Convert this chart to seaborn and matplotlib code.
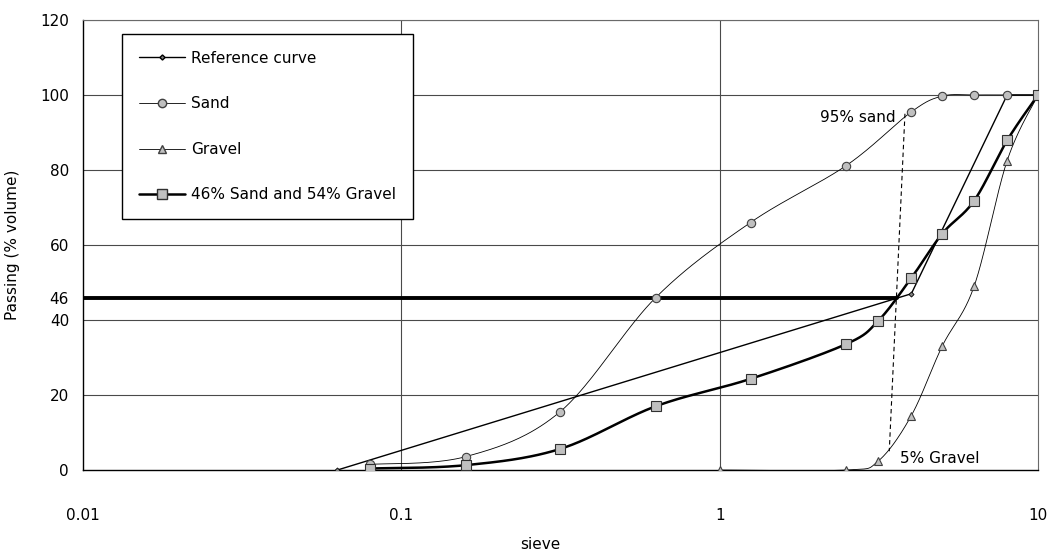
import numpy as np
import matplotlib
matplotlib.use("Agg")
import matplotlib.pyplot as plt
from matplotlib.lines import Line2D
import seaborn as sns

# Grading curves: sieve size (mm) vs. passing (% volume)
sieve_ref = [0.063, 4, 8, 10]
passing_ref = [0, 47, 100, 100]

sieve_sand = [0.08, 0.16, 0.315, 0.63, 1.25, 2.5, 4, 5, 6.3, 8, 10]
passing_sand = [1.5, 3.6, 15.5, 46, 66, 81.2, 95.5, 99.7, 100, 100, 100]

sieve_gravel = [1, 2.5, 3.15, 4, 5, 6.3, 8, 10]
passing_gravel = [0, 0, 2.4, 14.5, 33, 49, 82.5, 100]

sieve_mix = [0.08, 0.16, 0.315, 0.63, 1.25, 2.5, 3.15, 4, 5, 6.3, 8, 10]
passing_mix = [0.4, 1.3, 5.6, 17, 24.3, 33.6, 39.8, 51.2, 63, 71.8, 87.9, 100]

target_passing = 46
target_sieve = 3.6
sand_mark = (3.82, 95)
gravel_mark = (3.41, 5)

series_labels = ["Reference curve", "Sand", "Gravel", "46% Sand and 54% Gravel"]
y_ticks = [0, 20, 40, 46, 60, 80, 100, 120]
x_ticks = [0.01, 0.1, 1, 10]
x_ticklabels = ["0.01", "0.1", "1", "10"]

sns.set_style("white")
plt.rcParams["font.family"] = ["DejaVu Sans"]
plt.rcParams["text.color"] = "black"
plt.rcParams["axes.labelcolor"] = "black"
plt.rcParams["xtick.color"] = "black"
plt.rcParams["ytick.color"] = "black"

fig = plt.figure(figsize=(10.49, 5.52), dpi=100)
ax = fig.add_axes([83 / 1049, 1 - 470 / 552, 955 / 1049, 450 / 552])
ax.set_xscale("log")
ax.set_xlim(0.01, 10)
ax.set_ylim(0, 120)


def smooth(ax, xs, ys, n=40):
    """Bezier smoothing through the points, computed in screen space."""
    pts = ax.transData.transform(np.column_stack([xs, ys]))
    P = np.vstack([pts[0], pts, pts[-1]])
    t = np.linspace(0, 1, n)[:, None]
    out = []
    for i in range(1, len(P) - 2):
        p0, p1 = P[i], P[i + 1]
        c1 = p0 + (P[i + 1] - P[i - 1]) / 6
        c2 = p1 - (P[i + 2] - P[i]) / 6
        seg = (1 - t) ** 3 * p0 + 3 * (1 - t) ** 2 * t * c1 + 3 * (1 - t) * t ** 2 * c2 + t ** 3 * p1
        out.append(seg if i == 1 else seg[1:])
    d = ax.transData.inverted().transform(np.vstack(out))
    return d[:, 0], d[:, 1]


# grid
grid_kw = dict(color="#4a4a4a", lw=0.8, zorder=0)
for yv in [20, 40, 60, 80, 100, 120]:
    ax.axhline(yv, **grid_kw)
for xv in [0.1, 1]:
    ax.axvline(xv, **grid_kw)

fill = "#c0c0c0"

# reference curve (straight segments)
sns.lineplot(x=sieve_ref, y=passing_ref, ax=ax, color="black", lw=1.0,
             sort=False, estimator=None, zorder=3)
ax.plot(sieve_ref, passing_ref, ls="none", marker="D", ms=2.6,
        mfc="#808080", mec="black", mew=0.6, zorder=4)

# sand
sx, sy = smooth(ax, sieve_sand, passing_sand)
sns.lineplot(x=sx, y=sy, ax=ax, color="black", lw=0.6, sort=False, estimator=None, zorder=3)
ax.plot(sieve_sand, passing_sand, ls="none", marker="o", ms=6,
        mfc=fill, mec="#404040", mew=0.8, zorder=4)

# gravel
gx, gy = smooth(ax, sieve_gravel, passing_gravel)
sns.lineplot(x=gx, y=gy, ax=ax, color="black", lw=0.6, sort=False, estimator=None, zorder=3)
ax.plot(sieve_gravel, passing_gravel, ls="none", marker="^", ms=6,
        mfc=fill, mec="#404040", mew=0.8, zorder=4)

# mixture
mx, my = smooth(ax, sieve_mix, passing_mix)
sns.lineplot(x=mx, y=my, ax=ax, color="black", lw=1.8, sort=False, estimator=None, zorder=3)
ax.plot(sieve_mix, passing_mix, ls="none", marker="s", ms=6.5,
        mfc=fill, mec="#303030", mew=0.8, zorder=5)

# target passing line and split line
ax.plot([0.01, target_sieve], [target_passing, target_passing], color="black", lw=2.8, zorder=3)
ax.plot([sand_mark[0], gravel_mark[0]], [sand_mark[1], gravel_mark[1]],
        color="black", lw=0.8, dashes=(4, 3), zorder=3)

ax.text(3.56, 94.1, "95% sand", ha="right", va="center", fontsize=11)
ax.text(3.69, 3.1, "5% Gravel", ha="left", va="center", fontsize=11)

# axes styling
ax.set_xticks(x_ticks)
ax.set_xticklabels(x_ticklabels)
ax.xaxis.set_minor_locator(matplotlib.ticker.NullLocator())
ax.set_yticks(y_ticks)
ax.set_yticklabels([str(v) for v in y_ticks])
ax.tick_params(axis="x", direction="out", length=5, width=1, pad=22, labelsize=11, color="black")
ax.tick_params(axis="y", direction="out", length=4, width=1, pad=6, labelsize=11, color="black")
ax.grid(False)
for side in ["left", "bottom"]:
    ax.spines[side].set_color("black")
    ax.spines[side].set_linewidth(1)
for side in ["top", "right"]:
    ax.spines[side].set_color("#6a6a6a")
    ax.spines[side].set_linewidth(0.8)

ax.set_xlabel("sieve", fontsize=11)
ax.xaxis.set_label_coords((540 - 83) / 955, (470 - 537) / 450)
ax.set_ylabel("Passing (% volume)", fontsize=11)
ax.yaxis.set_label_coords(-(83 - 20) / 955, 0.5)

handles = [
    Line2D([], [], color="black", lw=1.0, marker="D", ms=2.6, mfc="#808080", mec="black"),
    Line2D([], [], color="black", lw=0.6, marker="o", ms=6, mfc=fill, mec="#404040"),
    Line2D([], [], color="black", lw=0.6, marker="^", ms=6, mfc=fill, mec="#404040"),
    Line2D([], [], color="black", lw=1.8, marker="s", ms=6.5, mfc=fill, mec="#303030"),
]
leg = ax.legend(handles, series_labels, loc="upper left",
                bbox_to_anchor=((122 - 83) / 955, (470 - 34) / 450),
                borderaxespad=0, frameon=True, fancybox=False, fontsize=11,
                labelspacing=2.0, handlelength=3.0, handletextpad=0.4,
                borderpad=1.1, framealpha=1)
leg.get_frame().set_edgecolor("black")
leg.get_frame().set_linewidth(1)

fig.savefig("out.png", dpi=100)
